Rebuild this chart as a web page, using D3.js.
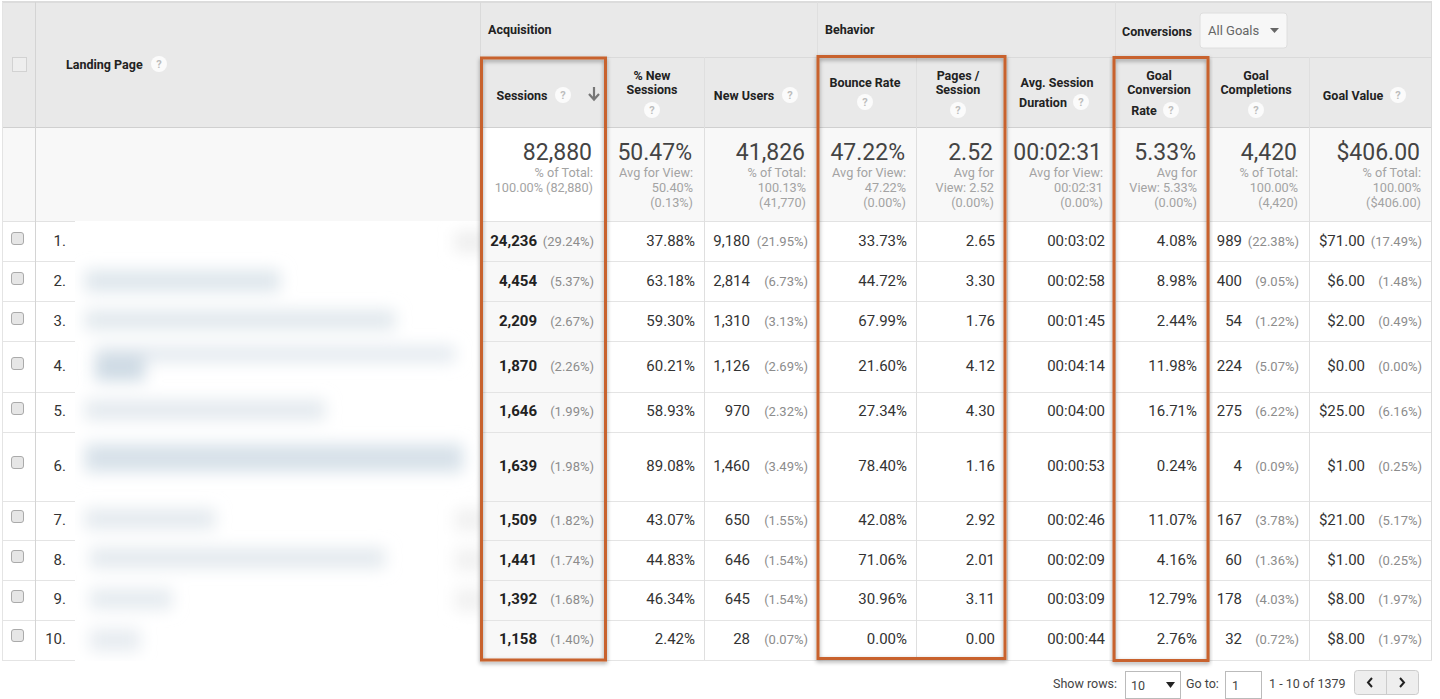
<!DOCTYPE html>
<html>
<head>
<meta charset="utf-8">
<style>
body { margin: 0; background: #fff; overflow: hidden; }
svg { display: block; font-family: Roboto, sans-serif; }
.th { font-size: 12.5px; font-weight: 700; fill: #222; }
.val { font-size: 15px; fill: #333; }
.pct { font-size: 13px; fill: #8c8c8c; }
.big { font-size: 23px; fill: #444; }
.sub { font-size: 12.7px; fill: #a3a3a3; }
.foot { font-size: 12.5px; fill: #444; }
</style>
</head>
<body>
<svg class="chart"></svg>
<script src="https://cdn.jsdelivr.net/npm/d3@7"></script>
<script>
// table values
var ranks = ["1.", "2.", "3.", "4.", "5.", "6.", "7.", "8.", "9.", "10."];
var sessions = ["24,236", "4,454", "2,209", "1,870", "1,646", "1,639", "1,509", "1,441", "1,392", "1,158"];
var sessionsPct = ["(29.24%)", "(5.37%)", "(2.67%)", "(2.26%)", "(1.99%)", "(1.98%)", "(1.82%)", "(1.74%)", "(1.68%)", "(1.40%)"];
var newSessions = ["37.88%", "63.18%", "59.30%", "60.21%", "58.93%", "89.08%", "43.07%", "44.83%", "46.34%", "2.42%"];
var newUsers = ["9,180", "2,814", "1,310", "1,126", "970", "1,460", "650", "646", "645", "28"];
var newUsersPct = ["(21.95%)", "(6.73%)", "(3.13%)", "(2.69%)", "(2.32%)", "(3.49%)", "(1.55%)", "(1.54%)", "(1.54%)", "(0.07%)"];
var bounceRate = ["33.73%", "44.72%", "67.99%", "21.60%", "27.34%", "78.40%", "42.08%", "71.06%", "30.96%", "0.00%"];
var pagesSession = ["2.65", "3.30", "1.76", "4.12", "4.30", "1.16", "2.92", "2.01", "3.11", "0.00"];
var duration = ["00:03:02", "00:02:58", "00:01:45", "00:04:14", "00:04:00", "00:00:53", "00:02:46", "00:02:09", "00:03:09", "00:00:44"];
var convRate = ["4.08%", "8.98%", "2.44%", "11.98%", "16.71%", "0.24%", "11.07%", "4.16%", "12.79%", "2.76%"];
var completions = ["989", "400", "54", "224", "275", "4", "167", "60", "178", "32"];
var completionsPct = ["(22.38%)", "(9.05%)", "(1.22%)", "(5.07%)", "(6.22%)", "(0.09%)", "(3.78%)", "(1.36%)", "(4.03%)", "(0.72%)"];
var goalValue = ["$71.00", "$6.00", "$2.00", "$0.00", "$25.00", "$1.00", "$21.00", "$1.00", "$8.00", "$8.00"];
var goalValuePct = ["(17.49%)", "(1.48%)", "(0.49%)", "(0.00%)", "(6.16%)", "(0.25%)", "(5.17%)", "(0.25%)", "(1.97%)", "(1.97%)"];

var columns = ["sessions", "newSessions", "newUsers", "bounce", "pages", "duration", "conv", "completions", "value"];
var totals = ["82,880", "50.47%", "41,826", "47.22%", "2.52", "00:02:31", "5.33%", "4,420", "$406.00"];
var totalNotes = [
  ["% of Total:", "100.00% (82,880)"],
  ["Avg for View:", "50.40%", "(0.13%)"],
  ["% of Total:", "100.13%", "(41,770)"],
  ["Avg for View:", "47.22%", "(0.00%)"],
  ["Avg for", "View: 2.52", "(0.00%)"],
  ["Avg for View:", "00:02:31", "(0.00%)"],
  ["Avg for", "View: 5.33%", "(0.00%)"],
  ["% of Total:", "100.00%", "(4,420)"],
  ["% of Total:", "100.00%", "($406.00)"]
];
var headLines = [
  ["Sessions"], ["% New", "Sessions"], ["New Users"], ["Bounce Rate"], ["Pages /", "Session"],
  ["Avg. Session", "Duration"], ["Goal", "Conversion", "Rate"], ["Goal", "Completions"], ["Goal Value"]
];

// layout, edges
var W = 1440, H = 699;
var xEdges = [480, 605, 704, 817, 916, 1007, 1115, 1209, 1309, 1432];
var totalRight = [592, 692, 805, 905, 993, 1102, 1196, 1297, 1420];
var yTops = [221, 261, 301, 341, 392, 432, 501, 540, 580, 620];
var textY = [246, 286, 326, 371, 416, 471, 525, 565, 604, 644];
var boxY = [232, 272, 312, 357, 402, 456, 510, 550, 590, 629];

var xCol = d3.scaleOrdinal().domain(columns).range(xEdges);
var xEnd = d3.scaleOrdinal().domain(columns).range(xEdges.slice(1));
var xTotal = d3.scaleOrdinal().domain(columns).range(totalRight);
var yRow = d3.scaleOrdinal().domain(ranks).range(yTops);
var yText = d3.scaleOrdinal().domain(ranks).range(textY);
var yBox = d3.scaleOrdinal().domain(ranks).range(boxY);

var svg = d3.select(".chart").attr("width", W).attr("height", H);

var defs = svg.append("defs");
defs.append("clipPath").attr("id", "patch").append("rect")
    .attr("x", 75).attr("y", 221).attr("width", 405).attr("height", 440);
defs.append("filter").attr("id", "blur").attr("filterUnits", "userSpaceOnUse")
    .attr("x", 40).attr("y", 190).attr("width", 480).attr("height", 500)
    .append("feGaussianBlur").attr("stdDeviation", 8);
var sh = defs.append("filter").attr("id", "shadow").attr("x", "-5%").attr("y", "-5%").attr("width", "110%").attr("height", "110%");
sh.append("feDropShadow").attr("dx", 0).attr("dy", 2).attr("stdDeviation", 2.2).attr("flood-color", "#000").attr("flood-opacity", 0.38);

// backgrounds
svg.append("rect").attr("x", 2).attr("y", 2).attr("width", 1430).attr("height", 125).attr("fill", "#e9e9e9");
svg.append("rect").attr("x", 2).attr("y", 127).attr("width", 1430).attr("height", 94).attr("fill", "#f8f8f8");
svg.append("rect").attr("x", 2).attr("y", 1).attr("width", 1430).attr("height", 2).attr("fill", "#dcdcdc");
svg.append("rect").attr("x", xCol("sessions")).attr("y", 127).attr("width", 125).attr("height", 94).attr("fill", "#fff");
svg.append("rect").attr("x", xCol("sessions")).attr("y", 221).attr("width", 125).attr("height", 439).attr("fill", "#f8f8f8");

// grid lines
var line = (x1, y1, x2, y2, c) => svg.append("line").attr("x1", x1).attr("y1", y1).attr("x2", x2).attr("y2", y2)
    .attr("stroke", c || "#dadada").attr("stroke-width", 1).attr("shape-rendering", "crispEdges");
line(2, 127.5, 1432, 127.5, "#d0d0d0");
line(480, 57.5, 1432, 57.5);
line(2, 221.5, 1432, 221.5, "#e2e2e2");
yTops.slice(1).concat([660]).forEach(y => line(2, y + 0.5, 1432, y + 0.5, "#e4e4e4"));
line(35.5, 2, 35.5, 660, "#d4d4d4");
line(2.5, 2, 2.5, 660, "#e4e4e4");
line(1431.5, 2, 1431.5, 660);
xEdges.slice(0, -1).forEach((x, i) => {
  var top = (i == 0 || i == 3 || i == 6) ? 2 : 57;
  line(x + 0.5, top, x + 0.5, 660, i == 0 ? "#dadada" : "#dfdfdf");
});

// blurred landing page urls
var smudges = [
  { x: 85, y: 270, w: 195, h: 22, c: "#dee6ec" },
  { x: 85, y: 310, w: 310, h: 20, c: "#e1e8ed" },
  { x: 95, y: 346, w: 360, h: 16, c: "#e3e9ef" },
  { x: 95, y: 355, w: 50, h: 26, c: "#cedae4" },
  { x: 85, y: 400, w: 240, h: 20, c: "#e3e9ee" },
  { x: 85, y: 444, w: 378, h: 28, c: "#d7e1e9" },
  { x: 85, y: 509, w: 130, h: 20, c: "#e3e9ee" },
  { x: 90, y: 548, w: 295, h: 20, c: "#e3e9ee" },
  { x: 90, y: 589, w: 82, h: 20, c: "#e4eaef" },
  { x: 90, y: 629, w: 50, h: 22, c: "#e6ebf0" },
  { x: 455, y: 232, w: 30, h: 20, c: "#ededed" },
  { x: 455, y: 509, w: 30, h: 22, c: "#f0f0f0" },
  { x: 455, y: 549, w: 30, h: 22, c: "#f0f0f0" },
  { x: 455, y: 589, w: 30, h: 22, c: "#f0f0f0" }
];
svg.append("rect").attr("x", 75).attr("y", 221).attr("width", 405).attr("height", 440).attr("fill", "#fff");
svg.append("g").attr("clip-path", "url(#patch)").append("g").attr("filter", "url(#blur)")
   .selectAll("rect").data(smudges).enter().append("rect")
   .attr("x", d => d.x).attr("y", d => d.y).attr("width", d => d.w).attr("height", d => d.h).attr("fill", d => d.c);

// group headings
svg.append("text").attr("class", "th").attr("x", 488).attr("y", 34).text("Acquisition");
svg.append("text").attr("class", "th").attr("x", 825).attr("y", 34).text("Behavior");
svg.append("text").attr("class", "th").attr("x", 1122).attr("y", 36).text("Conversions");
svg.append("text").attr("class", "th").attr("x", 66).attr("y", 69).text("Landing Page");

// all goals dropdown
svg.append("rect").attr("x", 1200).attr("y", 13).attr("width", 87).attr("height", 35).attr("rx", 3)
   .attr("fill", "#f7f7f7").attr("stroke", "#dedede");
svg.append("text").attr("x", 1208).attr("y", 35).attr("font-size", 13).attr("fill", "#666").text("All Goals");
svg.append("path").attr("d", "M1270 28h9l-4.5 5z").attr("fill", "#666");

// help icons
function help(cx, cy) {
  svg.append("circle").attr("cx", cx).attr("cy", cy).attr("r", 8).attr("fill", "#fbfbfb");
  svg.append("text").attr("x", cx).attr("y", cy + 4).attr("text-anchor", "middle")
     .attr("font-size", 11).attr("font-weight", 700).attr("fill", "#bdbdbd").text("?");
}
help(159, 64);

// column headings
var headPos = [
  { x: [522], y: [100], icons: [[563, 95]] },
  { x: [652, 652], y: [80, 94], icons: [[652, 110]] },
  { x: [744], y: [100], icons: [[790, 95]] },
  { x: [865], y: [87], icons: [[865, 102]] },
  { x: [958, 958], y: [80, 94], icons: [[958, 110]] },
  { x: [1057, 1043], y: [87, 107], icons: [[1081, 102]] },
  { x: [1159, 1159, 1144], y: [80, 94, 115], icons: [[1171, 110]] },
  { x: [1256, 1256], y: [80, 94], icons: [[1256, 110]] },
  { x: [1353], y: [100], icons: [[1398, 95]] }
];
columns.forEach((c, i) => {
  headLines[i].forEach((t, j) => {
    svg.append("text").attr("class", "th").attr("text-anchor", "middle")
       .attr("x", headPos[i].x[j]).attr("y", headPos[i].y[j]).text(t);
  });
  headPos[i].icons.forEach(p => help(p[0], p[1]));
});
svg.append("path").attr("d", "M594 87v12M589 94l5 5.5 5-5.5").attr("fill", "none").attr("stroke", "#777").attr("stroke-width", 2.2);

// summary row
columns.forEach((c, i) => {
  var right = xTotal(c);
  svg.append("text").attr("class", "big").attr("text-anchor", "end").attr("x", right).attr("y", 160).text(totals[i]);
  svg.selectAll(null).data(totalNotes[i]).enter().append("text")
     .attr("class", "sub").attr("text-anchor", "end").attr("x", right + 1).attr("y", (d, j) => 177 + j * 15).text(d => d);
});

// rows
function simple(vals, col, pad) {
  svg.append("g").selectAll("text").data(vals).enter().append("text")
     .attr("class", "val").attr("text-anchor", "end")
     .attr("x", xEnd(col) - pad).attr("y", (d, i) => yText(ranks[i])).text(d => d);
}
function paired(vals, pcts, col, xv, xp) {
  svg.append("g").selectAll("text").data(vals).enter().append("text")
     .attr("class", "val").attr("text-anchor", "end").attr("font-weight", col == "sessions" ? 700 : 400)
     .style("fill", col == "sessions" ? "#222" : null)
     .attr("x", xv).attr("y", (d, i) => yText(ranks[i])).text(d => d);
  svg.append("g").selectAll("text").data(pcts).enter().append("text")
     .attr("class", "pct").attr("text-anchor", "end")
     .attr("x", xp).attr("y", (d, i) => yText(ranks[i])).text(d => d);
}
paired(sessions, sessionsPct, "sessions", 537, 594);
simple(newSessions, "newSessions", 9);
paired(newUsers, newUsersPct, "newUsers", 750, 808);
simple(bounceRate, "bounce", 9);
simple(pagesSession, "pages", 12);
simple(duration, "duration", 10);
simple(convRate, "conv", 12);
paired(completions, completionsPct, "completions", 1242, 1299);
paired(goalValue, goalValuePct, "value", 1365, 1422);

svg.append("g").selectAll("text").data(ranks).enter().append("text")
   .attr("class", "val").attr("text-anchor", "end").attr("x", 66).attr("y", d => yText(d)).text(d => d);

svg.append("g").selectAll("rect").data(ranks).enter().append("rect")
   .attr("x", 11.5).attr("y", d => yBox(d) + 0.5).attr("width", 12).attr("height", 12).attr("rx", 2.5)
   .attr("fill", "#e6e6e6").attr("stroke", "#aaa");
svg.append("rect").attr("x", 12.5).attr("y", 57.5).attr("width", 14).attr("height", 14)
   .attr("fill", "#eee").attr("stroke", "#d2d2d2");

// orange highlight boxes
var highlights = [[481.5, 58, 124, 602], [818, 56.5, 187, 602], [1114, 57.5, 94, 603]];
svg.append("g").selectAll("rect").data(highlights).enter().append("rect")
   .attr("x", d => d[0]).attr("y", d => d[1]).attr("width", d => d[2]).attr("height", d => d[3])
   .attr("fill", "none").attr("stroke", "#c8622f").attr("stroke-width", 3).attr("filter", "url(#shadow)");

// pager
svg.append("text").attr("class", "foot").attr("x", 1053).attr("y", 688).text("Show rows:");
svg.append("rect").attr("x", 1125.5).attr("y", 671.5).attr("width", 55).attr("height", 27).attr("fill", "#fff").attr("stroke", "#bbb");
svg.append("text").attr("class", "foot").attr("x", 1131).attr("y", 690).text("10");
svg.append("path").attr("d", "M1166 682h9l-4.5 6z").attr("fill", "#222");
svg.append("text").attr("class", "foot").attr("x", 1186).attr("y", 688).text("Go to:");
svg.append("rect").attr("x", 1225.5).attr("y", 671.5).attr("width", 36).attr("height", 27).attr("fill", "#fff").attr("stroke", "#bbb");
svg.append("text").attr("class", "foot").attr("x", 1232).attr("y", 690).text("1");
svg.append("text").attr("class", "foot").attr("x", 1269).attr("y", 688).text("1 - 10 of 1379");
svg.append("rect").attr("x", 1354.5).attr("y", 670.5).attr("width", 64).attr("height", 24).attr("rx", 3).attr("fill", "#eee").attr("stroke", "#ccc");
line(1386.5, 671, 1386.5, 694, "#ccc");
svg.append("path").attr("d", "M1372 678l-4 4.5 4 4.5M1400 678l4 4.5-4 4.5").attr("fill", "none").attr("stroke", "#222").attr("stroke-width", 2);
</script>
</body>
</html>
